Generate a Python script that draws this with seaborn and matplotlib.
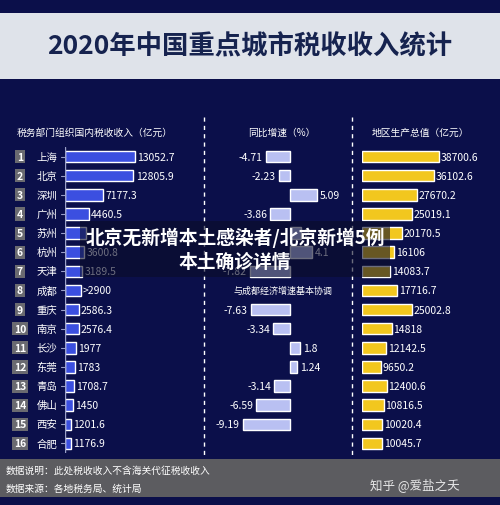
import matplotlib.pyplot as plt
import seaborn as sns
import pandas as pd
import numpy as np

cities = ['上海', '北京', '深圳', '广州', '苏州', '杭州', '天津', '成都',
          '重庆', '南京', '长沙', '东莞', '青岛', '佛山', '西安', '合肥']
tax = [13052.7, 12805.9, 7177.3, 4460.5, 4000.0, 3600.8, 3189.5, 2900,
       2586.3, 2576.4, 1977, 1783, 1708.7, 1450, 1201.6, 1176.9]
tax_labels = ['13052.7', '12805.9', '7177.3', '4460.5', '', '3600.8', '3189.5', '>2900',
              '2586.3', '2576.4', '1977', '1783', '1708.7', '1450', '1201.6', '1176.9']
growth = [-4.71, -2.23, 5.09, -3.86, 2.0, 4.1, -7.82, np.nan,
          -7.63, -3.34, 1.8, 1.24, -3.14, -6.59, -9.19, np.nan]
gdp = [38700.6, 36102.6, 27670.2, 25019.1, 20170.5, 16106, 14083.7, 17716.7,
       25002.8, 14818, 12142.5, 9650.2, 12400.6, 10816.5, 10020.4, 10045.7]

df = pd.DataFrame({'city': cities, 'tax': tax, 'growth': growth, 'gdp': gdp})

sns.set_theme(style='white')
plt.rcParams['font.family'] = ['Noto Sans CJK SC', 'DejaVu Sans']
bg = '#0b0f4a'
W, H = 500, 506
fig = plt.figure(figsize=(5, 5.06), dpi=100, facecolor=bg)

def px(x, y, w, h):
    return [x / W, 1 - (y + h) / H, w / W, h / H]

# title band
tb = fig.add_axes(px(0, 14, 500, 66))
tb.set_facecolor('#dfe3ea')
tb.set_xticks([]); tb.set_yticks([])
for s in tb.spines.values():
    s.set_visible(False)
tb.text(0.5, 0.5, '2020年中国重点城市税收收入统计', ha='center', va='center',
        fontsize=19, fontweight='bold', color='#16234f')

# footer band
fb = fig.add_axes(px(0, 460, 500, 38))
fb.set_facecolor('#5c5c60')
fb.set_xticks([]); fb.set_yticks([])
for s in fb.spines.values():
    s.set_visible(False)
fb.text(0.012, 0.72, '数据说明：此处税收收入不含海关代征税收收入', color='white', fontsize=7, va='center')
fb.text(0.012, 0.25, '数据来源：各地税务局、统计局', color='white', fontsize=7, va='center')
fb.text(0.92, 0.35, '知乎 @爱盐之夭', color='white', fontsize=9, va='center', ha='right', alpha=0.85)

# headers
fig.text(95 / W, 1 - 133 / H, '税务部门组织国内税收收入（亿元）', color='white', fontsize=7, ha='center', va='center')
fig.text(282 / W, 1 - 133 / H, '同比增速（%）', color='white', fontsize=7, ha='center', va='center')
fig.text(420 / W, 1 - 133 / H, '地区生产总值（亿元）', color='white', fontsize=7, ha='center', va='center')

top, hgt = 148, 306

def style(ax):
    ax.set_facecolor('none')
    ax.set_xticks([]); ax.set_yticks([])
    ax.set_xlabel(''); ax.set_ylabel('')
    for s in ax.spines.values():
        s.set_visible(False)
    ax.set_ylim(15.5, -0.5)

# tax panel
ax1 = fig.add_axes(px(65, top, 139, hgt))
sns.barplot(data=df, x='tax', y='city', color='#3b4fe0', saturation=1, width=0.6, ax=ax1)
style(ax1)
ax1.set_xlim(0, 26000)
ax1.axvline(0, color='#9aa0c8', lw=1)
for i, (c, v, lab) in enumerate(zip(cities, tax, tax_labels)):
    ax1.text(v + 400, i, lab, color='white', fontsize=7.5, va='center')
    fig.text(20 / W, 1 - (top + (i + 0.5) * hgt / 16) / H, str(i + 1), color='white', fontsize=7.5,
             fontweight='bold', ha='center', va='center',
             bbox=dict(boxstyle='square,pad=0.15', fc='#6a6a70', ec='none'))
    fig.text(47 / W, 1 - (top + (i + 0.5) * hgt / 16) / H, c, color='white', fontsize=7.5,
             ha='center', va='center')
    ax1.plot([-0.03 * 26000, 0], [i, i], color='#9aa0c8', lw=0.8, clip_on=False)

# growth panel
ax2 = fig.add_axes(px(210, top, 140, hgt))
sns.barplot(data=df, x='growth', y='city', color='#b9c0f2', saturation=1, width=0.6, ax=ax2)
style(ax2)
ax2.set_xlim(-15.5, 11.5)
for i, v in enumerate(growth):
    if np.isnan(v):
        continue
    if v < 0:
        ax2.text(v - 0.6, i, f'{v:g}', color='white', fontsize=7.5, va='center', ha='right')
    else:
        ax2.text(v + 0.6, i, f'{v:g}', color='white', fontsize=7.5, va='center', ha='left')
ax2.text(-1.5, 7, '与成都经济增速基本协调', color='white', fontsize=6.5, va='center', ha='center')

# gdp panel
ax3 = fig.add_axes(px(362, top, 138, hgt))
sns.barplot(data=df, x='gdp', y='city', color='#f2c71e', saturation=1, width=0.6, ax=ax3)
style(ax3)
ax3.set_xlim(0, 69000)
for i, v in enumerate(gdp):
    ax3.text(v + 800, i, f'{v:g}', color='white', fontsize=7.5, va='center')

# dashed separators
for x in (204, 352):
    fig.add_artist(plt.Line2D([x / W, x / W], [1 - 118 / H, 1 - 458 / H], color='white',
                              lw=1, ls=(0, (3, 3)), transform=fig.transFigure))

# overlay caption
fig.text(0.47, 1 - 250 / H, '北京无新增本土感染者/北京新增5例\n本土确诊详情', color='white',
         fontsize=13.5, fontweight='bold', ha='center', va='center', linespacing=1.3,
         bbox=dict(boxstyle='square,pad=0.3', fc='#0a0c28', ec='none', alpha=0.6))

fig.savefig('out.png', dpi=100, facecolor=bg)
